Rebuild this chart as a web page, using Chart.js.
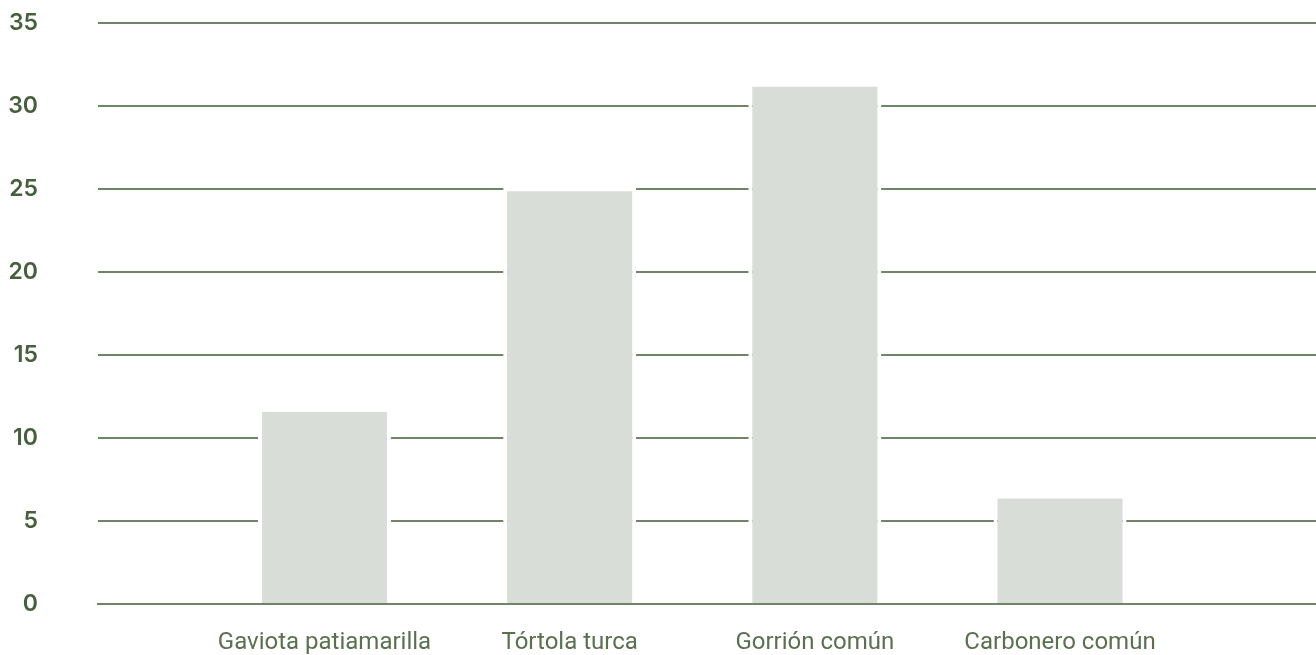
<!DOCTYPE html>
<html>
<head>
<meta charset="utf-8">
<script src="https://cdn.jsdelivr.net/npm/chart.js@4"></script>
<style>
  html, body { margin: 0; padding: 0; background: #fff; }
  #wrap { width: 1316px; height: 655px; }
</style>
</head>
<body>
<div id="wrap"><canvas id="barChart"></canvas></div>
<script>
// especies y valores
var categories = ['Gaviota patiamarilla', 'Tórtola turca', 'Gorrión común', 'Carbonero común'];
var values = [11.8, 25.1, 31.4, 6.6];
var yTicks = [0, 5, 10, 15, 20, 25, 30, 35];

var gridColor = '#6f8566';

var data = {
    datasets: [{
        label: 'Especies',
        data: categories.map(function (c, i) { return { x: i + 1, y: values[i] }; }),
        backgroundColor: '#d8ddd7',
        borderColor: '#ffffff',
        borderWidth: 4,
        borderSkipped: 'start',
        categoryPercentage: 1,
        barPercentage: 0.5425
    }]
};

var config = {
    type: 'bar',
    data: data,
    options: {
        responsive: true,
        maintainAspectRatio: false,
        animation: false,
        layout: { padding: { left: 8, right: 0, top: 23, bottom: 0 } },
        plugins: { legend: { display: false }, tooltip: { enabled: false } },
        scales: {
            x: {
                type: 'linear',
                offset: false,
                min: 0.0762,
                max: 5.0442,
                grid: { display: false, offset: false, drawTicks: false },
                border: { display: true, color: gridColor, width: 2, z: 1 },
                afterBuildTicks: function (scale) {
                    scale.ticks = categories.map(function (c, i) { return { value: i + 1 }; });
                },
                afterFit: function (scale) {
                    scale.height = 51;
                    scale.paddingLeft = 0;
                    scale.paddingRight = 0;
                },
                ticks: {
                    padding: 25,
                    maxRotation: 0,
                    autoSkip: false,
                    color: '#5a7150',
                    font: { family: 'Roboto', size: 24 },
                    callback: function (v) { return categories[v - 1] || ''; }
                }
            },
            y: {
                min: 0,
                max: 35,
                afterBuildTicks: function (scale) {
                    scale.ticks = yTicks.map(function (v) { return { value: v }; });
                },
                afterFit: function (scale) {
                    scale.width = 90;
                    scale.paddingTop = 0;
                    scale.paddingBottom = 0;
                },
                grid: { color: gridColor, lineWidth: 2, drawTicks: false },
                border: { display: false },
                ticks: {
                    padding: 60,
                    color: '#46603e',
                    font: { family: 'Inter', size: 23, weight: '600' }
                }
            }
        }
    }
};

var barChart = new Chart(document.getElementById('barChart'), config);
</script>
</body>
</html>
